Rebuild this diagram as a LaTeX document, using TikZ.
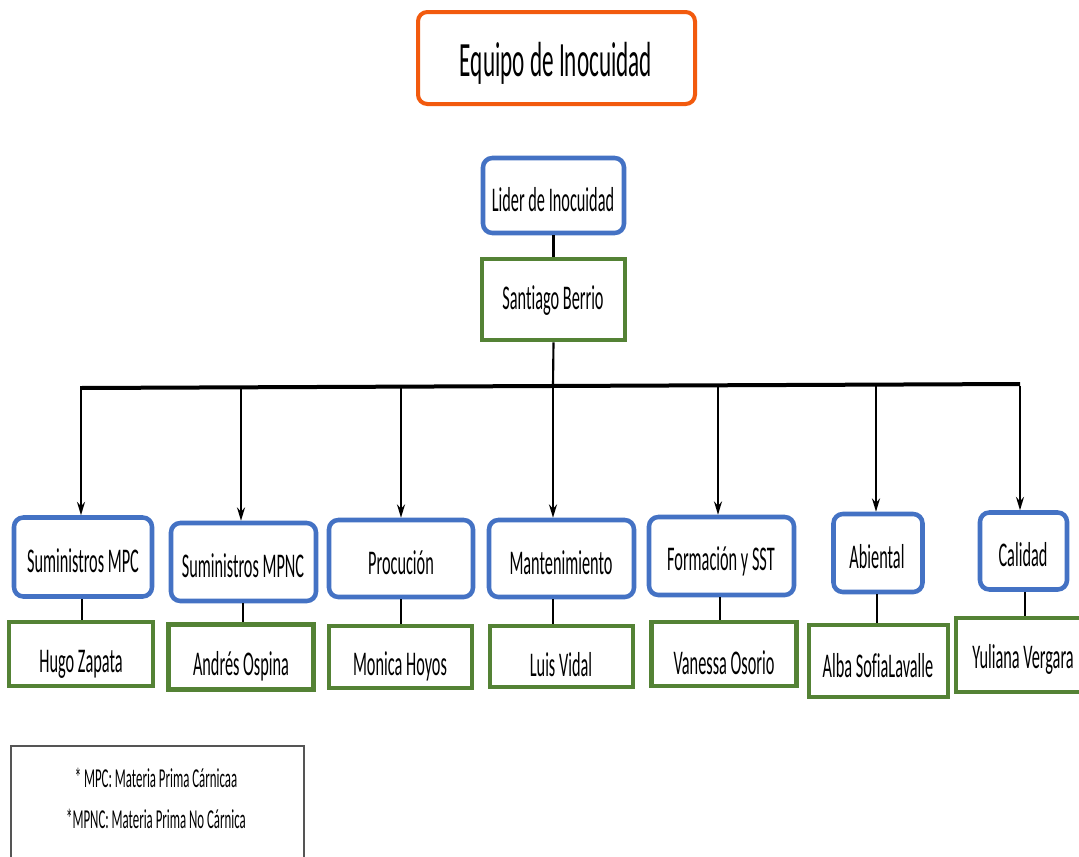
\documentclass[tikz,border=0pt]{standalone}
\usepackage{fontspec}
\setmainfont{Carlito}[FakeStretch=0.47,Ligatures={NoCommon}]
\usetikzlibrary{arrows.meta}
\definecolor{orng}{RGB}{242,90,14}
\definecolor{blu}{RGB}{68,114,196}
\definecolor{grn}{RGB}{84,130,53}
\definecolor{lgd}{RGB}{85,85,85}
\tikzset{
  titlebox/.style={draw=orng,line width=3pt,rounded corners=7pt,fill=white,inner sep=0pt},
  bluebox/.style={draw=blu,line width=3.4pt,rounded corners=7pt,fill=white,inner sep=0pt},
  greenbox/.style={draw=grn,line width=3.6pt,fill=white,inner sep=0pt},
  lbl/.style={inner sep=0pt,font=\fontsize{26}{30}\selectfont,text=black},
  legtxt/.style={inner sep=0pt,font=\fontsize{20.5}{24}\selectfont,text=black},
  conn/.style={line width=1.6pt,black},
  arr/.style={line width=1.4pt,black,-{Stealth[length=10pt,width=6pt]}},
  bar/.style={line width=3pt,black}
}
\begin{document}
\begin{tikzpicture}[x=0.75pt,y=-0.75pt]
\useasboundingbox (0,0) rectangle (1079,857);
\clip (0,0) rectangle (1079,857);
% title
\node[titlebox,minimum width=277*0.75pt,minimum height=92*0.75pt] (title) at (556.5,58) {};
\node[inner sep=0pt,font=\fontsize{37}{42}\selectfont,text=black] (titletxt) at (556,63) {Equipo de Inocuidad};
% leader
\node[bluebox,minimum width=141*0.75pt,minimum height=75*0.75pt] (lider) at (553.5,195.5) {};
\node[lbl] (lidertxt) at (553,200) {Lider de Inocuidad};
\node[greenbox,minimum width=143*0.75pt,minimum height=81*0.75pt] (santiago) at (553.5,299.5) {};
\node[lbl] (santiagotxt) at (553,301) {Santiago Berrio};
\draw[conn] (lider.south) -- (santiago.north);
% bar
\coordinate (barL) at (81,388);
\coordinate (barR) at (1020,384);
\coordinate (barM) at (553,386);
\draw[conn] (santiago.south) -- (barM);
\draw[bar] (barL) -- (barR);
% departments
\foreach \n/\cx/\cy/\w/\h/\tx/\ty/\txt in {
  b1/83/557/138/79/83/561/Suministros MPC,
  b2/243.5/562/145/78/243/566/Suministros MPNC,
  b3/401/558.5/144/77/401/563/Procución,
  b4/561.5/558.5/145/77/561/563/Mantenimiento,
  b5/721.5/556/145/78/721/561/Formación y SST,
  b6/878/553/89/78/877/557/Abiental,
  b7/1023.5/551/87/77/1023/555/Calidad}{
  \node[bluebox,minimum width=\w*0.75pt,minimum height=\h*0.75pt] (\n) at (\cx,\cy) {};
  \node[lbl] (\n t) at (\tx,\ty) {\txt};
}
\foreach \n/\cx/\cy/\w/\h/\tx/\ty/\txt in {
  g1/81/654/144/64/81/664/Hugo Zapata,
  g2/241/657/145/65/241/666/Andrés Ospina,
  g3/400.5/657/143/62/400/666/Monica Hoyos,
  g4/561.5/656.5/143/61/561/665/Luis Vidal,
  g5/724/654/145/64/724/663/Vanessa Osorio,
  g6/878.5/661/139/72/878/666/Alba SofiaLavalle,
  g7/1022/655/132/74/1023/659/Yuliana Vergara}{
  \node[greenbox,minimum width=\w*0.75pt,minimum height=\h*0.75pt] (\n) at (\cx,\cy) {};
  \node[lbl] (\n t) at (\tx,\ty) {\txt};
}
% drops
\foreach \x/\b in {81/b1,241/b2,401/b3,553/b4,718/b5,876/b6,1020/b7}{
  \coordinate (d\b) at (\x,386);
  \draw[arr] (d\b) -- (\b.north -| d\b);
}
% links blue-green
\foreach \b/\g/\x in {b1/g1/82,b2/g2/243,b3/g3/401,b4/g4/553,b5/g5/720,b6/g6/877,b7/g7/1025}{
  \coordinate (u\b) at (\x,0);
  \draw[conn] (\b.south -| u\b) -- (\g.north -| u\b);
}
% legend
\node[draw=lgd,line width=1.5pt,minimum width=293*0.75pt,minimum height=140*0.75pt,inner sep=0pt,anchor=north west] (legend) at (10,745) {};
\node[legtxt] (leg1) at (156,778) {* MPC: Materia Prima Cárnicaa};
\node[legtxt] (leg2) at (156,819) {*MPNC: Materia Prima No Cárnica};
\end{tikzpicture}
\end{document}
